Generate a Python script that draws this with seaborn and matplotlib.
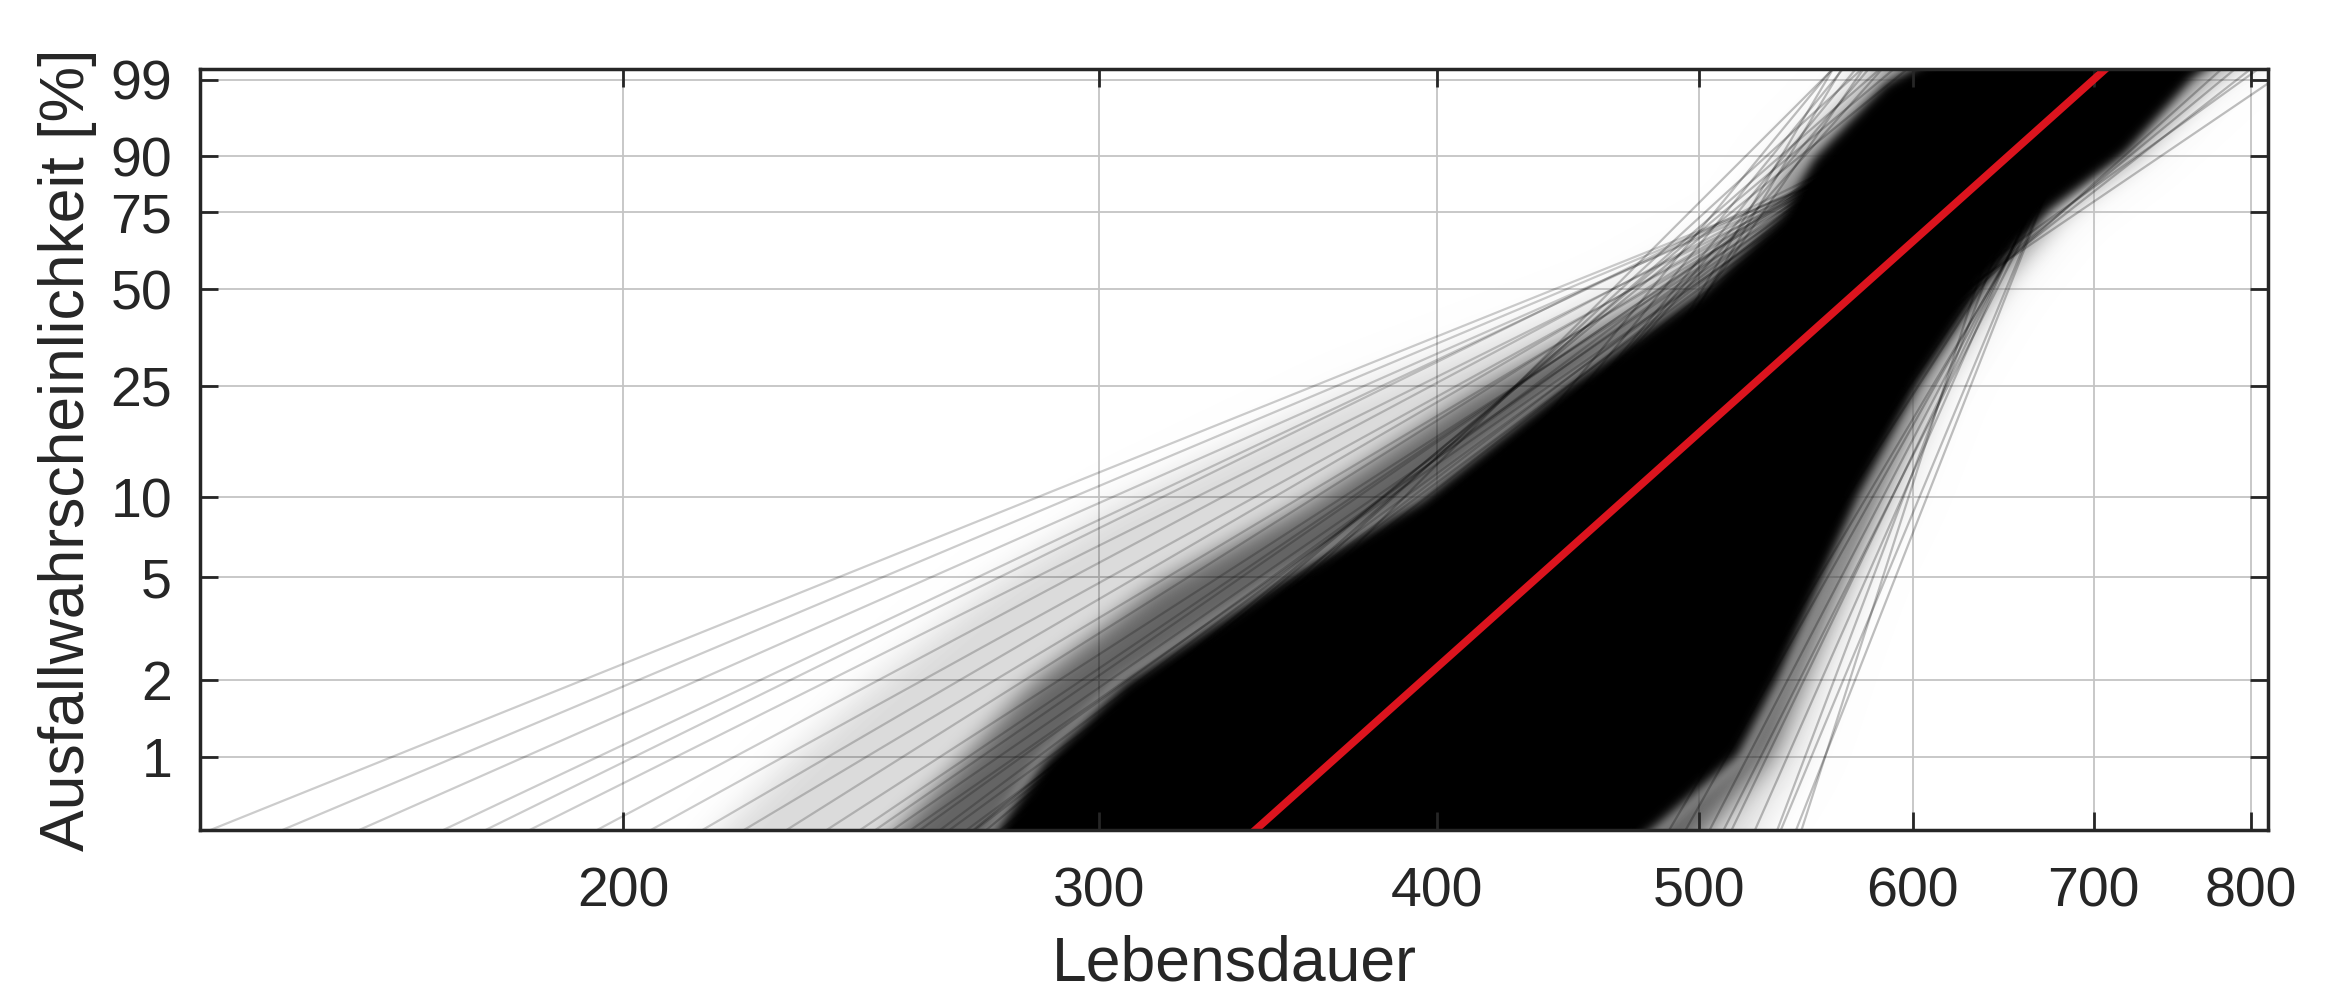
import numpy as np
import pandas as pd
import matplotlib
matplotlib.use("Agg")
import matplotlib.pyplot as plt
from matplotlib.patches import Rectangle
from matplotlib.ticker import NullLocator
import seaborn as sns

# Weibull-Wahrscheinlichkeitsnetz: jede Gerade = (eta, beta)
RED_ETA = 596
RED_BETA = 9.5

# linker Faecher (flache Geraden)
FAN_ETA = [482, 485, 490, 487, 489, 498, 496, 503, 501, 508, 505, 513,
           509, 516, 513, 520, 517, 508, 521, 508, 524, 520, 527]
FAN_BETA = [4.27, 4.47, 4.69, 5.22, 5.02, 5.30, 5.65, 5.85, 6.18, 6.34, 6.68, 6.84,
            7.18, 7.32, 7.63, 7.76, 8.09, 7.33, 7.38, 7.94, 7.84, 8.29, 8.39]

# linker oberer Rand
LT_ETA = [481, 486, 490, 492, 495, 494, 499, 504, 507, 510, 512, 515, 517]
LT_BETA = [10.6, 9.7, 9.3, 8.9, 8.65, 12.9, 13.0, 12.9, 12.4, 11.9, 17.9, 17.6, 15.2]

# rechter unterer Rand (steile Geraden)
RB_ETA = [659, 653, 653, 653, 653, 654, 640, 650, 648, 656, 660, 645]
RB_BETA = [25.5, 24.0, 22.0, 20.4, 18.9, 17.9, 33.0, 16.5, 15.5, 21.0, 27.0, 28.0]

# rechter oberer Rand
RT_ETA = [658, 656, 658, 651, 660]
RT_BETA = [8.3, 8.76, 9.5, 7.63, 7.2]

# Geradenbuendel als Dichtestufen: Lebensdauer links/rechts je Ausfallwahrscheinlichkeit [%]
BAND_P = [0.2, 0.52, 1, 2, 5, 10, 25, 50, 75, 90, 99, 99.37, 99.8]
CORE_LEFT = [256, 274, 286, 306, 350, 394, 444, 500, 535, 550, 585, 595, 616]
CORE_RIGHT = [429, 482, 518, 536, 557, 574, 604, 638, 675, 720, 763, 773, 795]
HALO_LEFT = [230, 250, 265, 281, 314, 356, 410, 480, 525, 540, 578, 582, 591]
HALO_RIGHT = [467, 508, 536, 550, 570, 587, 613, 646, 683, 728, 775, 786, 810]
OUTER_LEFT = [200, 215, 228, 245, 272, 302, 368, 458, 516, 530, 565, 568, 575]
OUTER_RIGHT = [500, 530, 550, 562, 580, 600, 622, 654, 690, 736, 790, 800, 815]

X_TICKS = [200, 300, 400, 500, 600, 700, 800]
Y_TICKS = [1, 2, 5, 10, 25, 50, 75, 90, 99]
X_LIM = (139.5, 812)
Y_LIM = (0.52, 99.37)
GRID_COLOR = "#c4c4c4"


def weib_fwd(p):
    p = np.clip(np.asarray(p, dtype=float), 1e-6, 100 - 1e-6)
    return np.log(-np.log(1 - p / 100))


def weib_inv(y):
    return 100 * (1 - np.exp(-np.exp(np.asarray(y, dtype=float))))


def lines_frame(etas, betas):
    rows = []
    for i, (eta, beta) in enumerate(zip(etas, betas)):
        for p in (0.3, 99.7):
            t = eta * (-np.log(1 - p / 100)) ** (1 / beta)
            rows.append({"run": i, "t": t, "p": p})
    return pd.DataFrame(rows)


def box_blur(a, r, axis):
    pad = [(0, 0)] * a.ndim
    pad[axis] = (r + 1, r)
    c = np.cumsum(np.pad(a, pad), axis=axis)
    n = a.shape[axis]
    hi = np.take(c, np.arange(2 * r + 1, 2 * r + 1 + n), axis=axis)
    lo = np.take(c, np.arange(0, n), axis=axis)
    return (hi - lo) / (2 * r + 1)


def soft(r):
    def f(im, dpi):
        m = 3 * r
        a = np.pad(im, ((m, m), (m, m), (0, 0)))
        for _ in range(3):
            a = box_blur(a, r, 0)
            a = box_blur(a, r, 1)
        return np.clip(a, 0, 1), -m, -m
    return f


sns.set_theme(style="ticks")
plt.rcParams["font.family"] = ["Liberation Sans", "DejaVu Sans"]

fig = plt.figure(figsize=(23.48, 9.89), dpi=100)
ax = fig.add_axes([200 / 2348, 1 - 830 / 989, 2068 / 2348, 761 / 989])
ax.set_axisbelow(False)

# Gitter von Hand, damit es unter dem Buendel liegt
for v in X_TICKS:
    ax.axvline(v, color=GRID_COLOR, lw=1.3, zorder=0.5)
for v in Y_TICKS:
    ax.axhline(v, color=GRID_COLOR, lw=1.3, zorder=0.5)

layers = [
    (OUTER_LEFT, OUTER_RIGHT, 0.15, 14, 1.6),
    (HALO_LEFT, HALO_RIGHT, 0.55, 10, 1.8),
    (CORE_LEFT, CORE_RIGHT, 1.0, 4, 2.0),
]
for left, right, a, r, z in layers:
    poly = ax.fill_betweenx(BAND_P, left, right, color="black", alpha=a,
                            lw=0, zorder=z, clip_on=False)
    poly.set_agg_filter(soft(r))

# weisse Masken rund um die Achse (der weichgezeichnete Kern ragt sonst hinaus)
for x0, y0, w, h in [(0, -0.6, 1.1, 0.6), (0, 1.0, 1.1, 0.1), (1.0, -0.6, 0.1, 1.7)]:
    ax.add_patch(Rectangle((x0, y0), w, h, transform=ax.transAxes, color="white",
                           lw=0, clip_on=False, zorder=2.4))

groups = [
    (FAN_ETA, FAN_BETA, 0.2),
    (LT_ETA, LT_BETA, 0.25),
    (RB_ETA, RB_BETA, 0.25),
    (RT_ETA, RT_BETA, 0.25),
]
for etas, betas, a in groups:
    df = lines_frame(etas, betas)
    sns.lineplot(data=df, x="t", y="p", units="run", estimator=None, sort=False,
                 color="black", alpha=a, lw=1.6, ax=ax, legend=False, zorder=3)

red = lines_frame([RED_ETA], [RED_BETA])
sns.lineplot(data=red, x="t", y="p", estimator=None, sort=False,
             color="#dc141e", lw=5.5, ax=ax, legend=False, zorder=5)

ax.set_xscale("log")
ax.set_yscale("function", functions=(weib_fwd, weib_inv))
ax.set_xlim(*X_LIM)
ax.set_ylim(*Y_LIM)

ax.set_xticks(X_TICKS)
ax.set_xticklabels([str(v) for v in X_TICKS])
ax.set_yticks(Y_TICKS)
ax.set_yticklabels([str(v) for v in Y_TICKS])
ax.xaxis.set_minor_locator(NullLocator())
ax.yaxis.set_minor_locator(NullLocator())

ax.grid(False)
ax.tick_params(direction="in", top=True, right=True, length=13, width=2,
               labelsize=40, labelcolor="#262626", color="#262626")
ax.tick_params(axis="x", pad=26)
ax.tick_params(axis="y", pad=20)
for s in ax.spines.values():
    s.set_visible(True)
    s.set_color("#262626")
    s.set_linewidth(2.5)
    s.set_zorder(6)

ax.set_xlabel("Lebensdauer", fontsize=45, color="#262626")
ax.set_ylabel("Ausfallwahrscheinlichkeit [%]", fontsize=45, color="#262626")
ax.xaxis.set_label_coords(0.5, -0.137)
ax.yaxis.set_label_coords(-0.050, 0.5)

fig.savefig("out.png", dpi=100)
